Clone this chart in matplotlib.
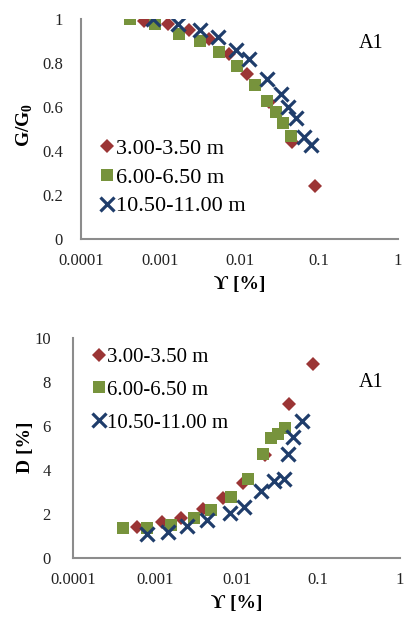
import numpy as np
import matplotlib
matplotlib.use('Agg')
import matplotlib.pyplot as plt

plt.rcParams['font.family'] = ['Liberation Serif', 'DejaVu Serif']
plt.rcParams['mathtext.fontset'] = 'custom'
plt.rcParams['mathtext.rm'] = 'Liberation Serif'
plt.rcParams['mathtext.bf'] = 'Liberation Serif:bold'

# data
labels = ['3.00-3.50 m', '6.00-6.50 m', '10.50-11.00 m']

# top: G/G0 vs strain
g_x1 = [0.00062, 0.00126, 0.0023, 0.0041, 0.0073, 0.0126, 0.0235, 0.0457, 0.091]
g_y1 = [0.99, 0.98, 0.95, 0.912, 0.84, 0.753, 0.624, 0.442, 0.24]
g_x2 = [0.00042, 0.00086, 0.00174, 0.00316, 0.0055, 0.0093, 0.0155, 0.022, 0.029, 0.0357, 0.0445]
g_y2 = [1.0, 0.977, 0.935, 0.90, 0.85, 0.786, 0.703, 0.63, 0.58, 0.53, 0.468]
g_x3 = [0.00082, 0.0017, 0.0032, 0.0053, 0.0091, 0.0131, 0.022, 0.033, 0.041, 0.051, 0.065, 0.079]
g_y3 = [1.0, 0.98, 0.953, 0.92, 0.862, 0.817, 0.73, 0.658, 0.60, 0.55, 0.465, 0.43]

# bottom: damping vs strain
d_x1 = [0.0006, 0.00124, 0.0021, 0.0039, 0.0068, 0.012, 0.022, 0.0444, 0.087]
d_y1 = [1.41, 1.64, 1.80, 2.2, 2.74, 3.42, 4.68, 7.0, 8.82]
d_x2 = [0.00041, 0.0008, 0.00158, 0.0030, 0.0049, 0.0085, 0.014, 0.021, 0.0266, 0.0318, 0.039]
d_y2 = [1.34, 1.34, 1.49, 1.80, 2.17, 2.75, 3.57, 4.71, 5.47, 5.63, 5.93]
d_x3 = [0.0008, 0.00146, 0.0025, 0.0044, 0.0083, 0.0125, 0.020, 0.0284, 0.038, 0.043, 0.049, 0.064]
d_y3 = [1.07, 1.19, 1.45, 1.72, 2.02, 2.33, 3.04, 3.50, 3.57, 4.71, 5.52, 6.23]

xticks = [0.0001, 0.001, 0.01, 0.1, 1]
xticklabels = ['0.0001', '0.001', '0.01', '0.1', '1']
g_ticks = [0, 0.2, 0.4, 0.6, 0.8, 1]
g_ticklabels = ['0', '0.2', '0.4', '0.6', '0.8', '1']
d_ticks = [0, 2, 4, 6, 8, 10]
d_ticklabels = ['0', '2', '4', '6', '8', '10']

red = '#9B3535'
green = '#77933C'
blue = '#1F3D6B'
gray = '#8C8C8C'

fig = plt.figure(figsize=(4.04, 6.21), dpi=100)
ax1 = fig.add_axes([0.2005, 0.615, 0.7845, 0.354])
ax2 = fig.add_axes([0.181, 0.102, 0.809, 0.353])


def style(ax, yticks, yticklabels, ylim, ypad):
    ax.set_xscale('log')
    ax.set_xlim(0.0001, 1)
    ax.set_ylim(*ylim)
    ax.set_xticks(xticks)
    ax.set_xticklabels(xticklabels)
    ax.minorticks_off()
    ax.set_yticks(yticks)
    ax.set_yticklabels(yticklabels)
    for s in ['top', 'right']:
        ax.spines[s].set_visible(False)
    for s in ['left', 'bottom']:
        ax.spines[s].set_color(gray)
        ax.spines[s].set_linewidth(1.5)
    ax.tick_params(axis='both', length=0, labelsize=12, colors='#222222')
    ax.tick_params(axis='y', pad=ypad)
    ax.tick_params(axis='x', pad=10)
    ax.patch.set_alpha(0)


def draw(ax, xs, ys):
    ax.plot(xs[0], ys[0], 'D', color=red, ms=7, mew=0, ls='none', label=labels[0])
    ax.plot(xs[1], ys[1], 's', color=green, ms=8, mew=0, ls='none', label=labels[1])
    ax.plot(xs[2], ys[2], 'x', color=blue, ms=9.5, mew=2.3, ls='none', label=labels[2])


draw(ax1, [g_x1, g_x2, g_x3], [g_y1, g_y2, g_y3])
style(ax1, g_ticks, g_ticklabels, (0, 1), 13)
ax1.legend(loc='center left', bbox_to_anchor=(0.058, 0.28), frameon=False,
           fontsize=16, handlelength=0.7, handletextpad=0.05, labelspacing=0.36,
           borderpad=0, borderaxespad=0)
ax1.text(0.915, 0.89, 'A1', transform=ax1.transAxes, fontsize=14.5, ha='center', va='center')
ax1.text(-0.177, 0.518, r'G/G$_\mathbf{0}$', transform=ax1.transAxes, rotation=90,
         fontsize=14, fontweight='bold', ha='center', va='center')
ax1.text(0.50, -0.205, '\u03d2 [%]', transform=ax1.transAxes,
         fontsize=14, fontweight='bold', ha='center', va='center')

draw(ax2, [d_x1, d_x2, d_x3], [d_y1, d_y2, d_y3])
style(ax2, d_ticks, d_ticklabels, (0, 10), 16)
ax2.legend(loc='center left', bbox_to_anchor=(0.057, 0.765), frameon=False,
           fontsize=15, handlelength=0.7, handletextpad=0.05, labelspacing=0.64,
           borderpad=0, borderaxespad=0)
ax2.text(0.911, 0.80, 'A1', transform=ax2.transAxes, fontsize=14.5, ha='center', va='center')
ax2.text(-0.147, 0.505, 'D [%]', transform=ax2.transAxes, rotation=90,
         fontsize=14, fontweight='bold', ha='center', va='center')
ax2.text(0.50, -0.207, '\u03d2 [%]', transform=ax2.transAxes,
         fontsize=14, fontweight='bold', ha='center', va='center')

fig.savefig('out.png', dpi=100, facecolor='white')
